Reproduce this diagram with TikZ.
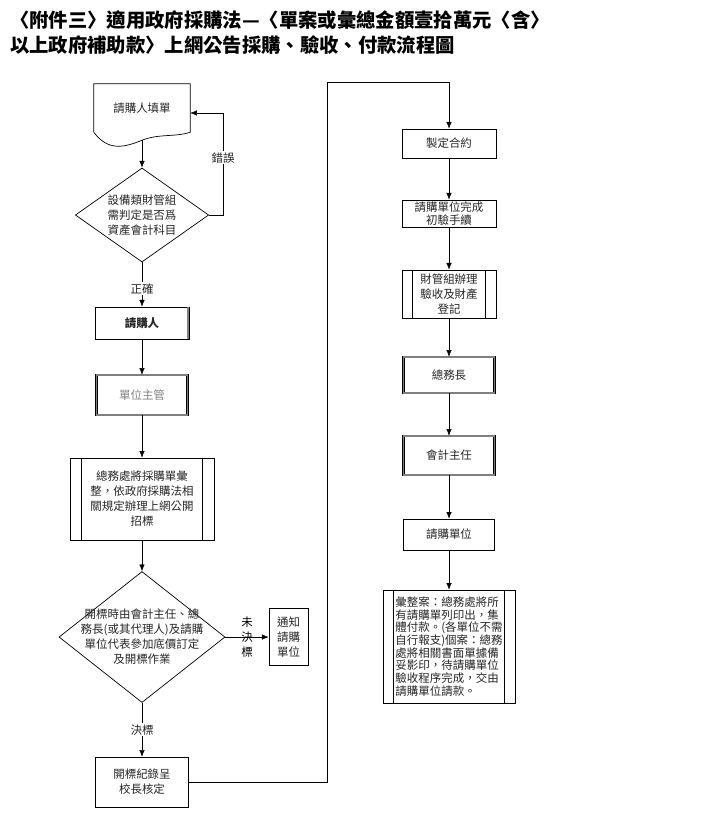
\documentclass[tikz,border=0pt]{standalone}
\usepackage{fontspec}
\setmainfont{Noto Sans CJK TC}
\usepackage{tikz}
\usetikzlibrary{positioning}
\usetikzlibrary{shapes.geometric}
\usetikzlibrary{arrows.meta}
\tikzstyle{block} = [draw, rectangle, line width=0.6pt, align=center, text=black!85]
\tikzstyle{dblock} = [block, double=gray, double distance=1.4pt, line width=0.5pt]
\tikzstyle{decision} = [draw, diamond, line width=0.6pt, inner sep=0pt, align=center, text=black!85]
\tikzstyle{shell} = [rectangle, inner sep=0pt, text=black!85]
\tikzstyle{lbl} = [fill=white, inner sep=1pt, text=black!85]

\begin{document}
\begin{tikzpicture}[x=0.03cm,y=-0.03cm,>={Latex[length=2mm,width=1.6mm]},font=\fontsize{9.8pt}{12.8pt}\selectfont]
    \useasboundingbox (0,0) rectangle (720,814);
    \node [anchor=north west, align=left, font=\fontsize{16.5pt}{21.5pt}\selectfont\bfseries] (title) at (6,6)
        {〈附件三〉適用政府採購法—〈單案或彙總金額壹拾萬元〈含〉\\以上政府補助款〉上網公告採購、驗收、付款流程圖};

    % left column
    \node [shell, minimum width=2.88cm, minimum height=1.44cm] (doc) at (142,108) {請購人填單};
    \node [decision, aspect=1.42, minimum width=4cm, minimum height=2.82cm, below of=doc, node distance=3.21cm] (check) {設備類財管組\\需判定是否爲\\資產會計科目};
    \node [block, minimum width=2.82cm, minimum height=0.96cm, below of=check, node distance=3.24cm, font=\fontsize{9.8pt}{12.8pt}\selectfont\bfseries] (buyer) {請購人};
    \node [dblock, minimum width=2.73cm, minimum height=1.2cm, below of=buyer, node distance=2.16cm, text=gray] (head) {單位主管};
    \node [block, minimum width=4.32cm, minimum height=2.46cm, below of=head, node distance=3.12cm] (gen) {總務處將採購單彙\\整，依政府採購法相\\關規定辦理上網公開\\招標};
    \node [decision, minimum width=4.98cm, minimum height=3.93cm, below of=gen, node distance=4.14cm] (open) {};
    \node [align=center, text=black!85, inner sep=0pt] (opentext) at (open.center) {開標時由會計主任、總\\務長(或其代理人)及請購\\單位代表參加底價訂定\\及開標作業};
    \node [block, minimum width=1.17cm, minimum height=1.71cm, right of=open, node distance=4.395cm] (notify) {通知\\請購\\單位};
    \node [block, minimum width=2.79cm, minimum height=1.5cm, below of=open, node distance=4.35cm] (record) {開標紀錄呈\\校長核定};

    % right column
    \node [block, minimum width=2.82cm, minimum height=0.87cm] (contract) at (449,143.5) {製定合約};
    \node [block, minimum width=2.82cm, minimum height=0.81cm, inner ysep=1pt, below of=contract, node distance=2.1cm, font=\fontsize{9.8pt}{11.5pt}\selectfont] (inspect) {請購單位完成\\初驗手續};
    \node [block, minimum width=2.82cm, minimum height=1.44cm, inner ysep=1pt, below of=inspect, node distance=2.415cm] (asset) {財管組辦理\\驗收及財產\\登記};
    \node [dblock, minimum width=2.73cm, minimum height=1.08cm, below of=asset, node distance=2.43cm] (chief) {總務長};
    \node [dblock, minimum width=2.73cm, minimum height=1.17cm, below of=chief, node distance=2.415cm] (acct) {會計主任};
    \node [block, minimum width=2.73cm, minimum height=0.93cm, below of=acct, node distance=2.37cm] (unit) {請購單位};
    \node [block, minimum width=3.96cm, minimum height=3.39cm, below of=unit, node distance=3.36cm, align=left, font=\fontsize{9.8pt}{10.8pt}\selectfont] (pay)
        {彙整案：總務處將所\\有請購單列印出，集\\體付款。(各單位不需\\自行報支)個案：總務\\處將相關書面單據備\\妥影印，待請購單位\\驗收程序完成，交由\\請購單位請款。};

    % document outline
    \draw [line width=0.6pt] (doc.south west) .. controls +(0.45cm,-0.6cm) and +(-0.5cm,-0.2cm) .. ([yshift=-0.24cm]doc.south)
        .. controls +(0.5cm,0.2cm) and +(-0.45cm,-0.15cm) .. (doc.south east) -- (doc.north east) -- (doc.north west) -- cycle;
    \coordinate (docbot) at ([yshift=-0.24cm]doc.south);

    % side bars
    \foreach \n/\d in {gen/0.36cm,asset/0.33cm,pay/0.33cm} {
        \draw [line width=0.6pt] ([xshift=\d]\n.north west) -- ([xshift=\d]\n.south west);
        \draw [line width=0.6pt] ([xshift=-\d]\n.north east) -- ([xshift=-\d]\n.south east);
    }
    \draw [gray, line width=1.6pt] ([xshift=-1.1pt]buyer.north east) -- ([xshift=-1.1pt]buyer.south east);

    \draw [->] (docbot) -- (check);
    \draw [->] (check.east) -- ++(14,0) |- node [lbl, pos=0.28] {錯誤} ([yshift=-0.15cm]doc.east);
    \draw [->] (check) -- node [lbl, pos=0.6] {正確} (buyer);
    \draw [->] (buyer) -- (head);
    \draw [->] (head) -- (gen);
    \draw [->] (gen) -- (open);
    \draw [->] (open) -- node [align=center, inner sep=0pt] {未\\決\\標} (notify);
    \draw [->] (open) -- node [lbl] {決標} (record);
    \coordinate (turn) at (327,82);
    \draw [->] (record.east) -| (turn) -| (contract.north);
    \draw [->] (contract) -- (inspect);
    \draw [->] (inspect) -- (asset);
    \draw [->] (asset) -- (chief);
    \draw [->] (chief) -- (acct);
    \draw [->] (acct) -- (unit);
    \draw [->] (unit) -- (pay);
\end{tikzpicture}
\end{document}
